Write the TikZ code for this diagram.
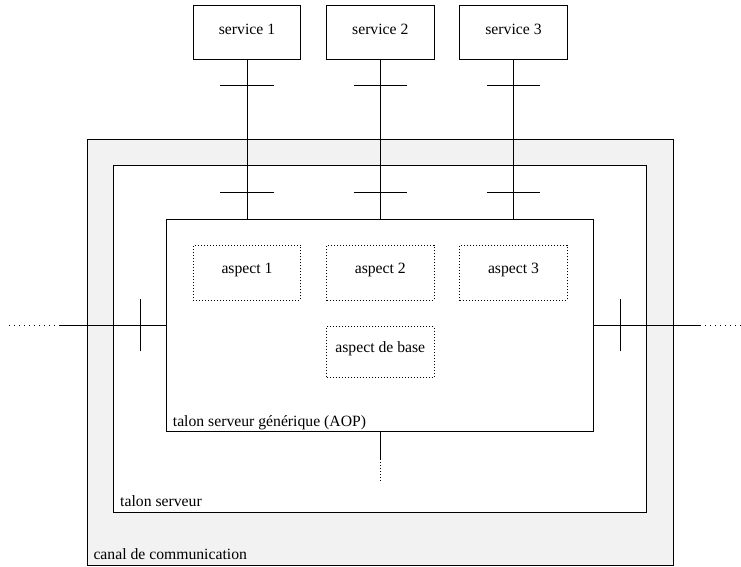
\documentclass[tikz,border=0pt]{standalone}
\usepackage{fontspec}
\setmainfont{Liberation Serif}
\definecolor{chanfill}{HTML}{F2F2F2}
\begin{document}
\begin{tikzpicture}[x=1pt,y=-1pt,
  every node/.style={font=\fontsize{15.7}{18}\selectfont},
  frame/.style={draw=black, line width=0.8pt, rectangle, inner sep=0pt},
  svcbox/.style={frame, minimum width=107.4pt, minimum height=54pt,
    text height=10.7pt, text depth=7pt},
  aspbox/.style={frame, dash pattern=on 1pt off 2pt, minimum width=107.4pt,
    text height=10.7pt, text depth=9.5pt},
  wire/.style={draw=black, line width=0.8pt},
  dotwire/.style={draw=black, line width=0.8pt, dash pattern=on 1pt off 4pt},
  tag/.style={anchor=base west, inner sep=0pt}
]
\useasboundingbox (0,0) rectangle (741,566);

% nested boxes: channel, server stub, generic AOP stub
\node[frame, fill=chanfill, minimum width=586.3pt, minimum height=425.7pt] (canal) at (380.15,352.15) {};
\node[frame, fill=white, minimum width=533.4pt, minimum height=346.8pt] (talon) at (380,339.1) {};
\node[frame, fill=white, minimum width=426.6pt, minimum height=212.3pt] (generic) at (380,325.15) {};

\node[tag] (lcanal) at (93.3,559) {canal de communication};
\node[tag] (ltalon) at (120,506) {talon serveur};
\node[tag] (lgeneric) at (172.7,426.7) {talon serveur générique (AOP)};

% services
\node[svcbox] (s1) at (247,32.3) {service 1};
\node[svcbox] (s2) at (380.3,32.3) {service 2};
\node[svcbox] (s3) at (513.5,32.3) {service 3};

% aspects
\node[aspbox, minimum height=54.7pt] (a1) at (247,272.7) {aspect 1};
\node[aspbox, minimum height=54.7pt] (a2) at (380.3,272.7) {aspect 2};
\node[aspbox, minimum height=54.7pt] (a3) at (513.5,272.7) {aspect 3};
\node[aspbox, minimum height=51pt] (ab) at (380.3,351.8) {aspect de base};

% service links with their crossing ticks
\foreach \s in {s1,s2,s3}{
  \draw[wire] (\s.south) -- (\s.south |- generic.north);
  \coordinate (\s-ta) at ([yshift=-26pt]\s.south);
  \coordinate (\s-tb) at (\s.south |- talon.north);
  \draw[wire] ([xshift=-26.7pt]\s-ta) -- ([xshift=26.7pt]\s-ta);
  \draw[wire] ([xshift=-26.7pt,yshift=-26.6pt]\s-tb) -- ([xshift=26.7pt,yshift=-26.6pt]\s-tb);
}

% left link
\coordinate (lw) at (60,325.15);
\coordinate (lwend) at (9,325.15);
\coordinate (ltick) at (140,325.15);
\draw[wire] (generic.west) -- (lw);
\draw[dotwire] (lw) -- (lwend);
\draw[wire] ([yshift=-26.3pt]ltick) -- ([yshift=26.3pt]ltick);

% right link
\coordinate (rw) at (700,325.15);
\coordinate (rwend) at (741,325.15);
\coordinate (rtick) at (620,325.15);
\draw[wire] (generic.east) -- (rw);
\draw[dotwire] (rw) -- (rwend);
\draw[wire] ([yshift=-26.3pt]rtick) -- ([yshift=26.3pt]rtick);

% bottom link
\coordinate (bw) at (380,459.3);
\coordinate (bwend) at (380,483);
\draw[wire] (generic.south) -- (bw);
\draw[dotwire, dash pattern=on 1pt off 2pt] (bw) -- (bwend);
\end{tikzpicture}
\end{document}
